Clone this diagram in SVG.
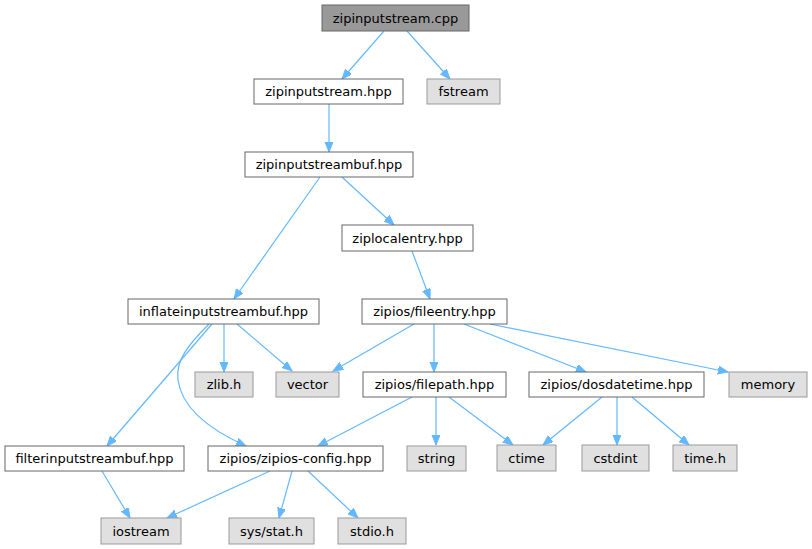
<svg xmlns="http://www.w3.org/2000/svg" width="812" height="549" viewBox="0 0 812 549">
<style>
.n rect{fill:#ffffff;stroke:#666666;stroke-width:1}
.x rect{fill:#e0e0e0;stroke:#999999;stroke-width:1}
.r rect{fill:#999999;stroke:#666666;stroke-width:1}
text{font-family:"DejaVu Sans",sans-serif;font-size:13px;fill:#000;text-anchor:middle}
#edges path{fill:none;stroke:#63b8ff;stroke-width:1.2;marker-end:url(#ah)}
</style>
<defs>
<marker id="ah" markerUnits="userSpaceOnUse" markerWidth="11" markerHeight="9" refX="10" refY="4" orient="auto">
<path d="M0,0 L10,4 L0,8 z" fill="#63b8ff" stroke="#63b8ff"/>
</marker>
</defs>
<rect width="812" height="549" fill="#ffffff"/>
<g id="edges">
<path d="M384,31 L342,79"/>
<path d="M407,31 L450,79"/>
<path d="M329,104 L329,152"/>
<path d="M320,177 L234,299"/>
<path d="M342,177 L394,225"/>
<path d="M412,251 L430,299"/>
<path d="M224,324 L224,372"/>
<path d="M237,324 L292,371"/>
<path d="M414,324 L333,371"/>
<path d="M434,324 L434,372"/>
<path d="M464,324 L586,372"/>
<path d="M490,324 L728,372"/>
<path d="M212,324 L107,446"/>
<path d="M209,324 C190,343 175,360 178,380 C182,410 215,432 246,446"/>
<path d="M102,471 L130,518"/>
<path d="M270,471 L167,518"/>
<path d="M292,471 L279,518"/>
<path d="M308,471 L358,518"/>
<path d="M412,397 L318,446"/>
<path d="M436,397 L436,445"/>
<path d="M449,397 L513,445"/>
<path d="M602,397 L543,445"/>
<path d="M617,397 L617,445"/>
<path d="M632,397 L689,445"/>
</g>
<g id="zipinputstream_cpp" class="r"><rect x="322" y="5" width="147" height="26"/><text x="395.5" y="22.5">zipinputstream.cpp</text></g>
<g id="zipinputstream_hpp" class="n"><rect x="254" y="79" width="149" height="25"/><text x="328.5" y="96">zipinputstream.hpp</text></g>
<g id="fstream" class="x"><rect x="427" y="79" width="73" height="25"/><text x="463.5" y="96">fstream</text></g>
<g id="zipinputstreambuf_hpp" class="n"><rect x="245" y="152" width="168" height="25"/><text x="329" y="169">zipinputstreambuf.hpp</text></g>
<g id="ziplocalentry_hpp" class="n"><rect x="342" y="225" width="131" height="26"/><text x="407.5" y="242.5">ziplocalentry.hpp</text></g>
<g id="inflateinputstreambuf_hpp" class="n"><rect x="128" y="299" width="191" height="25"/><text x="223.5" y="316">inflateinputstreambuf.hpp</text></g>
<g id="fileentry_hpp" class="n"><rect x="362" y="299" width="145" height="25"/><text x="434.5" y="316">zipios/fileentry.hpp</text></g>
<g id="zlib_h" class="x"><rect x="195" y="372" width="58" height="25"/><text x="224" y="389">zlib.h</text></g>
<g id="vector" class="x"><rect x="276" y="372" width="63" height="25"/><text x="307.5" y="389">vector</text></g>
<g id="filepath_hpp" class="n"><rect x="363" y="372" width="143" height="25"/><text x="434.5" y="389">zipios/filepath.hpp</text></g>
<g id="dosdatetime_hpp" class="n"><rect x="529" y="372" width="175" height="25"/><text x="616.5" y="389">zipios/dosdatetime.hpp</text></g>
<g id="memory" class="x"><rect x="729" y="372" width="78" height="25"/><text x="768" y="389">memory</text></g>
<g id="filterinputstreambuf_hpp" class="n"><rect x="5" y="446" width="179" height="25"/><text x="94.5" y="463">filterinputstreambuf.hpp</text></g>
<g id="zipios_config_hpp" class="n"><rect x="208" y="446" width="175" height="25"/><text x="295.5" y="463">zipios/zipios-config.hpp</text></g>
<g id="string" class="x"><rect x="407" y="446" width="59" height="25"/><text x="436.5" y="463">string</text></g>
<g id="ctime" class="x"><rect x="497" y="445" width="59" height="26"/><text x="526.5" y="462.5">ctime</text></g>
<g id="cstdint" class="x"><rect x="582" y="445" width="67" height="26"/><text x="615.5" y="462.5">cstdint</text></g>
<g id="time_h" class="x"><rect x="673" y="445" width="64" height="26"/><text x="705" y="462.5">time.h</text></g>
<g id="iostream" class="x"><rect x="101" y="518" width="80" height="26"/><text x="141" y="535.5">iostream</text></g>
<g id="sys_stat_h" class="x"><rect x="229" y="518" width="85" height="26"/><text x="271.5" y="535.5">sys/stat.h</text></g>
<g id="stdio_h" class="x"><rect x="338" y="518" width="68" height="26"/><text x="372" y="535.5">stdio.h</text></g>
</svg>
